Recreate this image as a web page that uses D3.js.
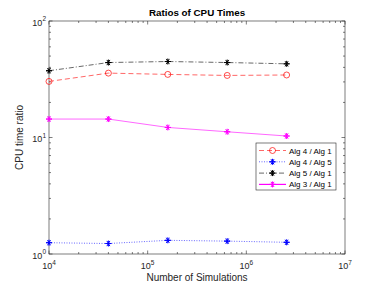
<!DOCTYPE html>
<html>
<head>
<meta charset="utf-8">
<script src="https://cdn.jsdelivr.net/npm/d3@7"></script>
<style>
  body { margin: 0; background: #fff; }
  text { font-family: "Liberation Sans", Arial, sans-serif; }
</style>
</head>
<body>
<script>
// data
var sims = [1e4, 4e4, 1.6e5, 6.4e5, 2.56e6];
var alg4alg1 = [30.3, 35.7, 34.8, 34.1, 34.4];
var alg4alg5 = [1.25, 1.23, 1.31, 1.29, 1.26];
var alg5alg1 = [37.4, 44.0, 44.9, 44.0, 42.9];
var alg3alg1 = [14.4, 14.4, 12.2, 11.2, 10.3];
var seriesNames = ["Alg 4 / Alg 1", "Alg 4 / Alg 5", "Alg 5 / Alg 1", "Alg 3 / Alg 1"];
var xTickExps = [4, 5, 6, 7];
var yTickExps = [0, 1, 2];

var width = 382, height = 286;
var margin = { top: 21, right: 37, bottom: 32, left: 49 };
var w = width - margin.left - margin.right,
    h = height - margin.top - margin.bottom;

var svg = d3.select("body").append("svg")
  .attr("width", width)
  .attr("height", height);
var g = svg.append("g")
  .attr("transform", "translate(" + margin.left + "," + margin.top + ")");

var x = d3.scaleLog().domain([1e4, 1e7]).range([0, w]);
var y = d3.scaleLog().domain([1, 100]).range([h, 0]);

// ticks (inward, on all four sides)
var axisColor = "#262626";
function minorVals(domain) {
  var out = [];
  for (var e = Math.log10(domain[0]); e < Math.log10(domain[1]); e++) {
    for (var k = 2; k <= 9; k++) out.push(k * Math.pow(10, e));
  }
  return out;
}
var ticks = g.append("g").attr("stroke", axisColor).attr("stroke-width", 0.6);
xTickExps.forEach(function (e) {
  var px = x(Math.pow(10, e));
  ticks.append("line").attr("x1", px).attr("x2", px).attr("y1", h).attr("y2", h - 3.5);
  ticks.append("line").attr("x1", px).attr("x2", px).attr("y1", 0).attr("y2", 3.5);
});
minorVals(x.domain()).forEach(function (v) {
  var px = x(v);
  ticks.append("line").attr("x1", px).attr("x2", px).attr("y1", h).attr("y2", h - 2);
  ticks.append("line").attr("x1", px).attr("x2", px).attr("y1", 0).attr("y2", 2);
});
yTickExps.forEach(function (e) {
  var py = y(Math.pow(10, e));
  ticks.append("line").attr("y1", py).attr("y2", py).attr("x1", 0).attr("x2", 3.5);
  ticks.append("line").attr("y1", py).attr("y2", py).attr("x1", w).attr("x2", w - 3.5);
});
minorVals(y.domain()).forEach(function (v) {
  var py = y(v);
  ticks.append("line").attr("y1", py).attr("y2", py).attr("x1", 0).attr("x2", 2);
  ticks.append("line").attr("y1", py).attr("y2", py).attr("x1", w).attr("x2", w - 2);
});

// box
g.append("rect").attr("width", w).attr("height", h)
  .attr("fill", "none").attr("stroke", axisColor).attr("stroke-width", 0.6);

// tick labels
function powLabel(sel, e) {
  sel.append("tspan").text("10");
  sel.append("tspan").attr("dy", -4.5).attr("font-size", 6.5).text(e);
}
xTickExps.forEach(function (e) {
  var t = g.append("text").attr("x", x(Math.pow(10, e))).attr("y", h + 15)
    .attr("font-size", 9).attr("fill", axisColor).attr("text-anchor", "middle");
  powLabel(t, e);
});
yTickExps.forEach(function (e) {
  var t = g.append("text").attr("x", -3).attr("y", y(Math.pow(10, e)) + 4.5)
    .attr("font-size", 9).attr("fill", axisColor).attr("text-anchor", "end");
  powLabel(t, e);
});

// labels
svg.append("text").attr("x", margin.left + w / 2).attr("y", 16)
  .attr("text-anchor", "middle").attr("font-size", 9.8).attr("font-weight", "bold")
  .attr("fill", "#000").text("Ratios of CPU Times");
svg.append("text").attr("x", margin.left + w / 2).attr("y", 281)
  .attr("text-anchor", "middle").attr("font-size", 10).attr("fill", axisColor)
  .text("Number of Simulations");
svg.append("text")
  .attr("transform", "translate(23," + (margin.top + h / 2) + ") rotate(-90)")
  .attr("text-anchor", "middle").attr("font-size", 10).attr("fill", axisColor)
  .text("CPU time ratio");

// series
var series = [
  { name: seriesNames[0], values: alg4alg1, color: "#ff0000", dash: "5,3", marker: "circle" },
  { name: seriesNames[1], values: alg4alg5, color: "#0000ff", dash: "1,1.5", marker: "star" },
  { name: seriesNames[2], values: alg5alg1, color: "#000000", dash: "5,2,1,2", marker: "star" },
  { name: seriesNames[3], values: alg3alg1, color: "#ff00ff", dash: null, marker: "star" }
];

var line = d3.line().x(function (d) { return x(d[0]); }).y(function (d) { return y(d[1]); });

function drawMarker(sel, s, px, py) {
  if (s.marker === "circle") {
    sel.append("circle").attr("cx", px).attr("cy", py).attr("r", 3)
      .attr("fill", "none").attr("stroke", s.color).attr("stroke-width", 0.7);
  } else {
    var r = 3;
    var mg = sel.append("g").attr("stroke", s.color).attr("stroke-width", 1);
    [0, 60, 120].forEach(function (a) {
      var rad = a * Math.PI / 180;
      mg.append("line")
        .attr("x1", px - r * Math.cos(rad)).attr("y1", py - r * Math.sin(rad))
        .attr("x2", px + r * Math.cos(rad)).attr("y2", py + r * Math.sin(rad));
    });
    mg.append("line").attr("x1", px).attr("x2", px).attr("y1", py - r).attr("y2", py + r);
    mg.append("line").attr("x1", px - r).attr("x2", px + r).attr("y1", py).attr("y2", py);
  }
}

series.forEach(function (s) {
  var pts = sims.map(function (v, i) { return [v, s.values[i]]; });
  g.append("path").datum(pts).attr("d", line)
    .attr("fill", "none").attr("stroke", s.color).attr("stroke-width", 0.6)
    .attr("stroke-dasharray", s.dash);
  pts.forEach(function (p) { drawMarker(g, s, x(p[0]), y(p[1])); });
});

// legend
var lg = svg.append("g").attr("transform", "translate(256,143)");
lg.append("rect").attr("width", 80).attr("height", 47)
  .attr("fill", "#fff").attr("stroke", axisColor).attr("stroke-width", 0.6);
series.forEach(function (s, i) {
  var ly = 7.5 + i * 11.3;
  lg.append("line").attr("x1", 3).attr("x2", 30).attr("y1", ly).attr("y2", ly)
    .attr("stroke", s.color).attr("stroke-width", s.dash ? 0.6 : 1.2)
    .attr("stroke-dasharray", s.dash);
  drawMarker(lg, s, 16.5, ly);
  lg.append("text").attr("x", 33).attr("y", ly + 3).attr("font-size", 8)
    .attr("fill", "#000").text(s.name);
});
</script>
</body>
</html>
